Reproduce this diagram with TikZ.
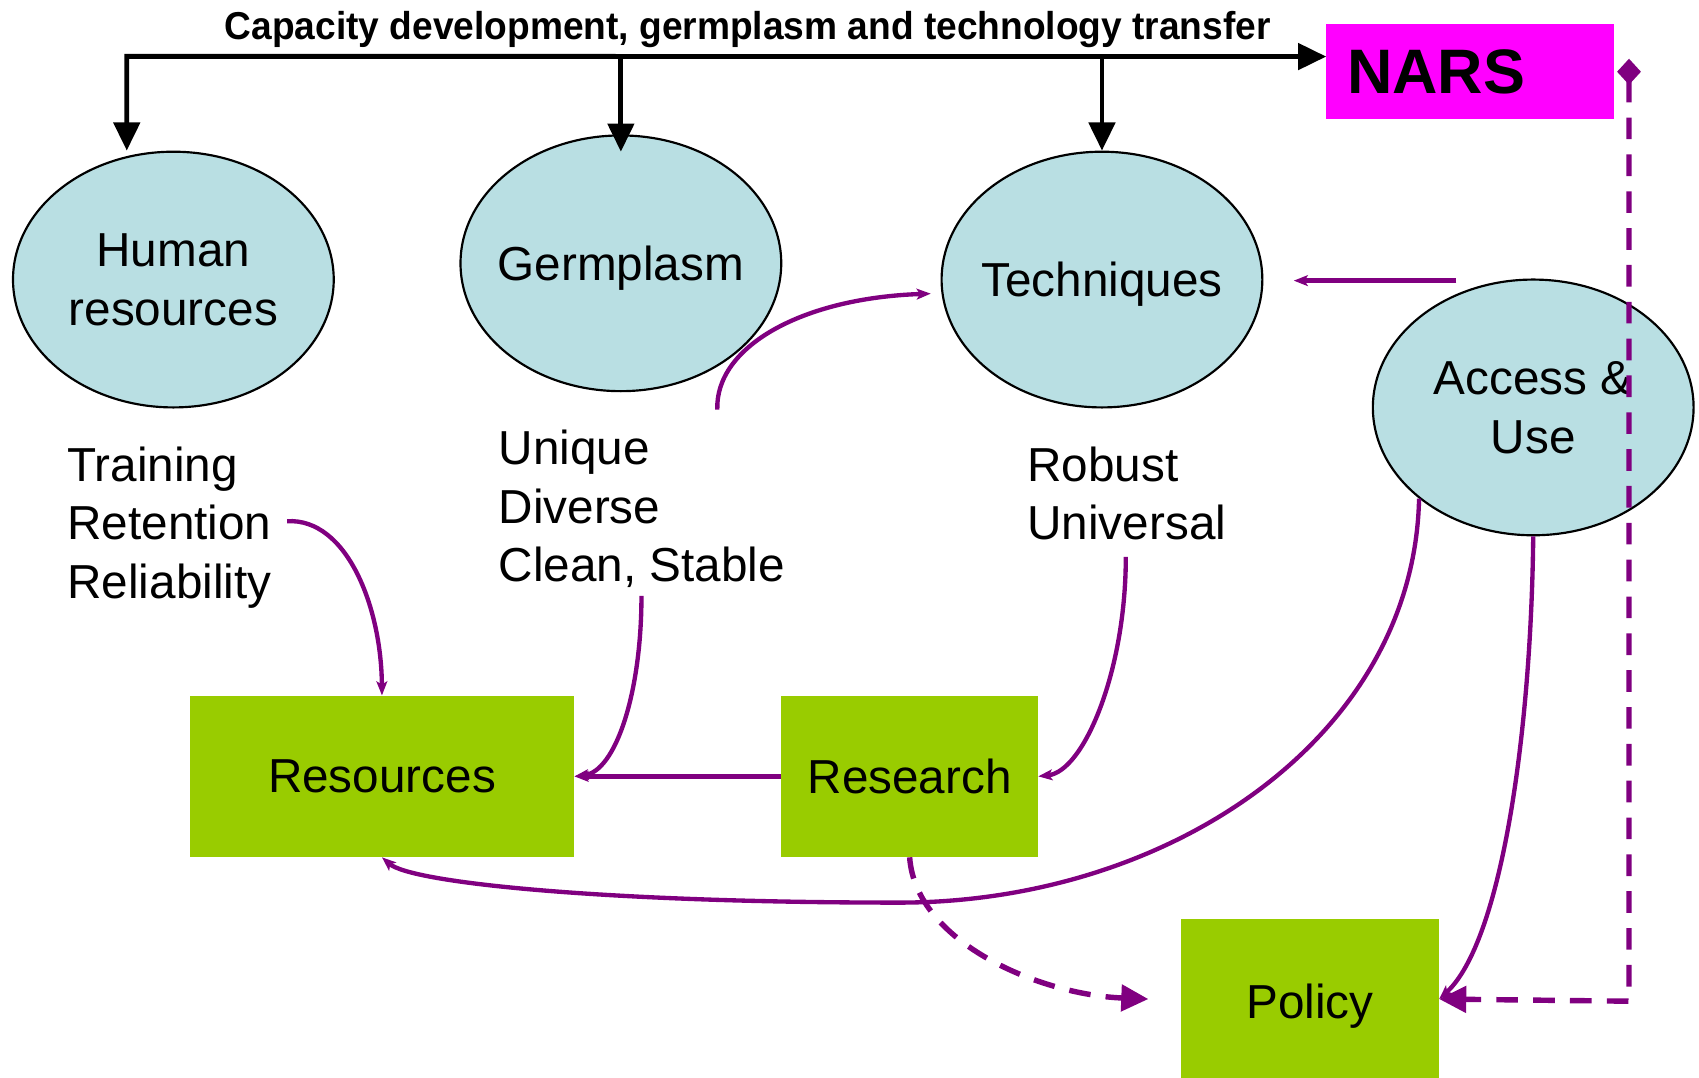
\documentclass[tikz,border=0pt]{standalone}
\usepackage{fontspec}
\setmainfont{Liberation Sans}
\usetikzlibrary{arrows.meta,shapes.geometric,calc}
\definecolor{ell}{HTML}{B9DFE3}
\definecolor{grn}{HTML}{99CC00}
\definecolor{mag}{HTML}{FF00FF}
\definecolor{pur}{HTML}{800080}
\tikzset{
 bubble/.style={ellipse, draw=black, line width=2pt, fill=ell, minimum width=296pt, minimum height=236pt, inner xsep=-20pt, inner ysep=0pt, align=center, text depth=0pt, font=\fontsize{44}{54}\selectfont},
 gbox/.style={rectangle, fill=grn, draw=none, inner sep=0pt, text depth=0pt, font=\fontsize{44}{54}\selectfont},
 note/.style={anchor=north west, inner sep=0pt, align=left, font=\fontsize{44}{54}\selectfont},
 busarrow/.style={line width=4.5pt, black, -{Triangle[length=26pt,width=24pt]}},
 parrow/.style={line width=4pt, pur, -{Stealth[length=13pt,width=10pt,inset=3pt]}},
 pdash/.style={line width=5pt, pur, dash pattern=on 20pt off 14pt},
 bighead/.style={-{Triangle[length=25pt,width=24pt]}},
}
\begin{document}
\begin{tikzpicture}[x=1pt,y=-1pt]
\useasboundingbox (0,0) rectangle (1568,994);

% title
\node[anchor=base, inner sep=0pt] (title) at (690,36) {\resizebox{965pt}{26pt}{\bfseries Capacity development, germplasm and technology transfer}};

% NARS
\node[anchor=north west, fill=mag, inner xsep=19pt, inner ysep=0pt, minimum height=88pt, text width=227pt, align=left, font=\bfseries\fontsize{58}{60}\selectfont] (nars) at (1224,22) {NARS};

% ellipses
\node[bubble] (hum) at (160,258) {Human\\resources};
\node[bubble] (germ) at (573,243) {Germplasm};
\node[bubble] (tech) at (1017,258) {Techniques};
\node[bubble] (acc) at (1415,376) {Access \&\\Use};

% notes
\node[note] (train) at (62,412) {Training\\Retention\\Reliability};
\node[note] (uniq) at (460,397) {Unique\\Diverse\\Clean, Stable};
\node[note] (robust) at (948,412) {Robust\\Universal};

% green boxes
\node[gbox, minimum width=355pt, minimum height=149pt] (res) at (352.5,716.5) {Resources};
\node[gbox, minimum width=237pt, minimum height=149pt] (rsch) at (839.5,716.5) {Research};
\node[gbox, minimum width=238pt, minimum height=152pt] (pol) at (1209,924) {Policy};

% bus
\coordinate (busL) at (117,52);
\coordinate (busR) at ($(nars.west)+(0,-14)$);
\draw[line width=4.5pt, black, {Triangle[length=26pt,width=24pt]}-{Triangle[length=26pt,width=24pt]}] (busL |- hum.north) -- (busL) -- (busR);
\draw[busarrow] (germ.north |- busL) -- ($(germ.north)+(0,16)$);
\draw[busarrow] (tech.north |- busL) -- (tech.north);

% free ends
\coordinate (s1) at (265,481);
\coordinate (s2) at (592,550);
\coordinate (s3) at (662,378);
\coordinate (s4) at (1039,514);
\coordinate (s6) at (1344,259);
\coordinate (e6) at (1194,259);
\coordinate (e3) at ($(tech.west)+(-9,13)$);
\coordinate (e9) at ($(pol.west)+(-30,-2)$);
\coordinate (dia) at ($(nars.east)+(14,-12)$);

% purple arrows
\draw[parrow] (s1) .. controls (320,478) and (352,560) .. (res.north);
\draw[parrow] (s2) .. controls (592,640) and (568,712) .. (res.east);
\draw[parrow] (s3) .. controls (660,320) and (740,275) .. (e3);
\draw[parrow] (s4) .. controls (1039,620) and (1000,712) .. (rsch.east);
\draw[parrow] (rsch.west) -- (res.east);
\draw[parrow] (s6) -- (e6);
\draw[parrow] (acc.south west) .. controls (1305,680) and (1080,833) .. (830,833) .. controls (560,833) and (380,815) .. (res.south);
\draw[parrow] (acc.south) .. controls (1413,680) and (1385,870) .. ($(pol.east)+(0,-2)$);

% dashed
\draw[pdash, bighead] (rsch.south) .. controls (845,870) and (960,918) .. (e9);
\draw[pdash, {Diamond[length=24pt,width=22pt]}-{Triangle[length=25pt,width=24pt]}] (dia) -- (dia |- pol.east) -- ($(pol.east)+(0,-2)$);
\end{tikzpicture}
\end{document}
